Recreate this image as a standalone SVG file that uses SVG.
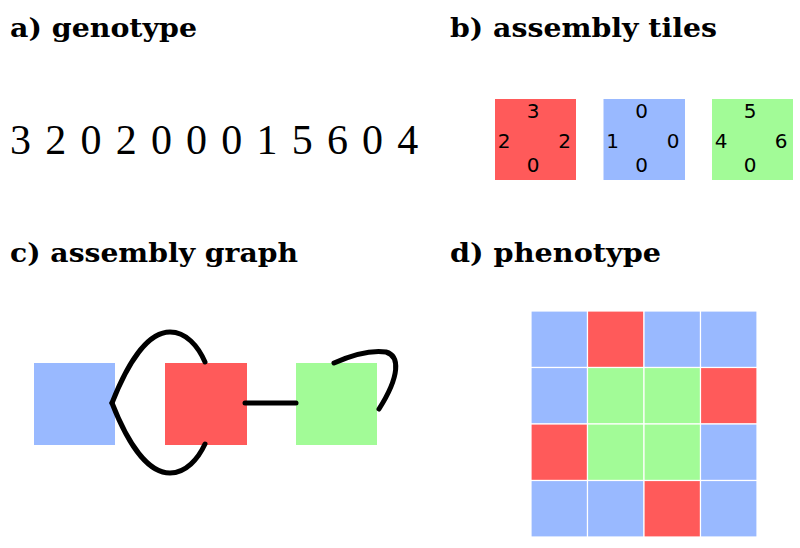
<svg xmlns="http://www.w3.org/2000/svg" width="800" height="548" viewBox="0 0 800 548">
<style>
.h{font-family:"DejaVu Serif",serif;font-weight:bold;font-size:26px;fill:#000}
.g{font-family:"Liberation Serif",serif;font-size:42px;fill:#000}
.t{font-family:"DejaVu Sans",sans-serif;font-size:20px;fill:#000;text-anchor:middle}
.r{fill:#ff5a5a}
.b{fill:#99b9ff}
.gr{fill:#a2fb97}
.c{fill:none;stroke:#000;stroke-width:5;stroke-linecap:round}
.cell{stroke:#fff;stroke-width:1.2}
</style>
<rect width="800" height="548" fill="#fff"/>
<g id="headings">
<text class="h" x="10" y="37" textLength="187" lengthAdjust="spacingAndGlyphs">a) genotype</text>
<text class="h" x="450" y="37" textLength="267" lengthAdjust="spacingAndGlyphs">b) assembly tiles</text>
<text class="h" x="10" y="262" textLength="288" lengthAdjust="spacingAndGlyphs">c) assembly graph</text>
<text class="h" x="450" y="262" textLength="211" lengthAdjust="spacingAndGlyphs">d) phenotype</text>
</g>
<g id="genotype">
<text class="g" text-anchor="middle" y="154" x="20.6 38.2 55.8 73.4 91 108.6 126.2 143.8 161.4 179 196.6 214.2 231.8 249.4 267 284.6 302.2 319.8 337.4 355 372.6 390.2 407.8">3 2 0 2 0 0 0 1 5 6 0 4</text>
</g>
<g id="tile-red">
<rect class="r" x="495" y="99" width="81" height="81"/>
<text class="t" x="533" y="117.5">3</text>
<text class="t" x="504" y="147.5">2</text>
<text class="t" x="564.5" y="147.5">2</text>
<text class="t" x="533" y="171.5">0</text>
</g>
<g id="tile-blue">
<rect class="b" x="603.5" y="99" width="81.5" height="81"/>
<text class="t" x="641.5" y="117.5">0</text>
<text class="t" x="612.5" y="147.5">1</text>
<text class="t" x="673" y="147.5">0</text>
<text class="t" x="641.5" y="171.5">0</text>
</g>
<g id="tile-green">
<rect class="gr" x="712" y="99" width="81" height="81"/>
<text class="t" x="750" y="117.5">5</text>
<text class="t" x="721" y="147.5">4</text>
<text class="t" x="781" y="147.5">6</text>
<text class="t" x="750" y="171.5">0</text>
</g>
<g id="node-blue"><rect class="b" x="34" y="363" width="81" height="82"/></g>
<g id="node-red"><rect class="r" x="165" y="363" width="82" height="82"/></g>
<g id="node-green"><rect class="gr" x="296" y="363" width="81" height="82"/></g>
<g id="connectors">
<path class="c" d="M112,403 C128,362 148,332 170,332 C186,332 198,346 205,362"/>
<path class="c" d="M112,403 C128,444 148,473 170,473 C186,473 198,459 205,444"/>
<path class="c" d="M245,403 L296,403"/>
<path class="c" d="M334,363 C352,355 372,350 386,352 C400,356 400,376 379,409"/>
</g>
<g id="phenotype">
<rect class="cell b" x="531" y="311" width="56.5" height="56.5"/>
<rect class="cell r" x="587.5" y="311" width="56.5" height="56.5"/>
<rect class="cell b" x="644" y="311" width="56.5" height="56.5"/>
<rect class="cell b" x="700.5" y="311" width="56.5" height="56.5"/>
<rect class="cell b" x="531" y="367.5" width="56.5" height="56.5"/>
<rect class="cell gr" x="587.5" y="367.5" width="56.5" height="56.5"/>
<rect class="cell gr" x="644" y="367.5" width="56.5" height="56.5"/>
<rect class="cell r" x="700.5" y="367.5" width="56.5" height="56.5"/>
<rect class="cell r" x="531" y="424" width="56.5" height="56.5"/>
<rect class="cell gr" x="587.5" y="424" width="56.5" height="56.5"/>
<rect class="cell gr" x="644" y="424" width="56.5" height="56.5"/>
<rect class="cell b" x="700.5" y="424" width="56.5" height="56.5"/>
<rect class="cell b" x="531" y="480.5" width="56.5" height="56.5"/>
<rect class="cell b" x="587.5" y="480.5" width="56.5" height="56.5"/>
<rect class="cell r" x="644" y="480.5" width="56.5" height="56.5"/>
<rect class="cell b" x="700.5" y="480.5" width="56.5" height="56.5"/>
</g>
</svg>
